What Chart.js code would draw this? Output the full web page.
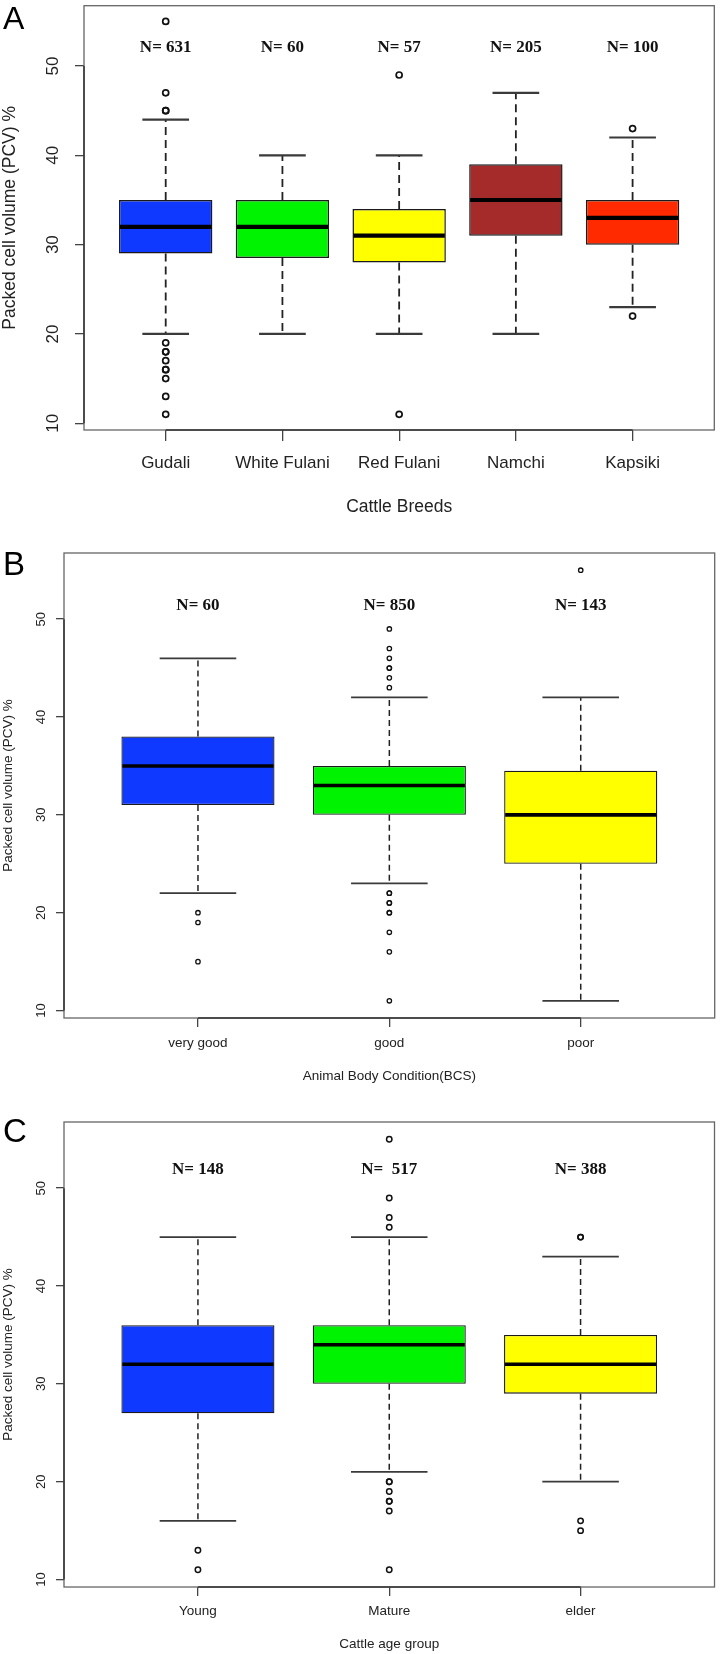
<!DOCTYPE html>
<html>
<head>
<meta charset="utf-8">
<script src="https://cdn.jsdelivr.net/npm/chart.js@4.4.1/dist/chart.umd.min.js"></script>
<style>
  html, body { margin: 0; padding: 0; background: #ffffff; }
  body { width: 720px; height: 1654px; position: relative; overflow: hidden; }
  canvas { position: absolute; left: 0; display: block; }
</style>
</head>
<body>
<canvas id="chartA" width="720" height="525" style="top:0px;width:720px;height:525px"></canvas>
<canvas id="chartB" width="720" height="565" style="top:525px;width:720px;height:565px"></canvas>
<canvas id="chartC" width="720" height="564" style="top:1090px;width:720px;height:564px"></canvas>
<script>
// ---------------- DATA ----------------
const yTicks = [10, 20, 30, 40, 50];
const yTitle = 'Packed cell volume (PCV) %';

// Panel A: cattle breeds
const breedCategories = ['Gudali', 'White Fulani', 'Red Fulani', 'Namchi', 'Kapsiki'];
const breedWhiskerLow = [20, 20, 20, 20, 23];
const breedQ1 = [29, 28.5, 28, 31, 30];
const breedMedian = [32, 32, 31, 35, 33];
const breedQ3 = [35, 35, 34, 39, 35];
const breedWhiskerHigh = [44, 40, 40, 47, 42];
const breedOutliers = [
  [55, 47, 45, 45, 19, 18, 18, 17, 16, 16, 15, 13, 11],
  [],
  [49, 11],
  [],
  [43, 22]
];
const breedN = ['N= 631', 'N= 60', 'N= 57', 'N= 205', 'N= 100'];
const breedColors = ['#1039ff', '#00f300', '#ffff00', '#a52a2a', '#ff2a00'];

// Panel B: body condition
const bcsCategories = ['very good', 'good', 'poor'];
const bcsWhiskerLow = [22, 23, 11];
const bcsQ1 = [31, 30, 25];
const bcsMedian = [35, 33, 30];
const bcsQ3 = [38, 35, 34.5];
const bcsWhiskerHigh = [46, 42, 42];
const bcsOutliers = [
  [20, 19, 15],
  [49, 47, 46, 45, 45, 44, 43, 22, 22, 21, 21, 20, 20, 18, 16, 11],
  [55]
];
const bcsN = ['N= 60', 'N= 850', 'N= 143'];
const bcsColors = ['#1039ff', '#00f300', '#ffff00'];

// Panel C: age group
const ageCategories = ['Young', 'Mature', 'elder'];
const ageWhiskerLow = [16, 21, 20];
const ageQ1 = [27, 30, 29];
const ageMedian = [32, 34, 32];
const ageQ3 = [36, 36, 35];
const ageWhiskerHigh = [45, 45, 43];
const ageOutliers = [
  [13, 11],
  [55, 49, 47, 46, 20, 20, 19, 18, 18, 17, 11],
  [45, 45, 16, 15]
];
const ageN = ['N= 148', 'N=  517', 'N= 388'];
const ageColors = ['#1039ff', '#00f300', '#ffff00'];

// ---------------- DRAWING ----------------
const SANS = '"Liberation Sans", Arial, Helvetica, sans-serif';
const SERIF = '"Liberation Serif", "Times New Roman", serif';

function makeBoxPlot(canvasId, d, s) {
  const boxes = d.categories.map((c, i) => ({ x: i + 1, y: [d.q1[i], d.q3[i]] }));
  const outPts = [];
  d.outliers.forEach((arr, i) => arr.forEach(v => outPts.push({ x: i + 1, y: v })));

  const extras = {
    id: 'boxExtras' + canvasId,
    afterDatasetsDraw(chart) {
      const ctx = chart.ctx, xs = chart.scales.x, ys = chart.scales.y;
      const meta = chart.getDatasetMeta(0);
      ctx.save();
      d.categories.forEach((c, i) => {
        const bar = meta.data[i];
        const cx = xs.getPixelForValue(i + 1);
        const w = bar.width;
        const yq1 = ys.getPixelForValue(d.q1[i]);
        const yq3 = ys.getPixelForValue(d.q3[i]);
        const ylo = ys.getPixelForValue(d.lo[i]);
        const yhi = ys.getPixelForValue(d.hi[i]);
        const ymed = ys.getPixelForValue(d.median[i]);
        // dashed whiskers
        ctx.strokeStyle = '#222';
        ctx.lineWidth = s.whiskerWidth;
        ctx.setLineDash(s.dash);
        ctx.beginPath();
        ctx.moveTo(cx, yq3); ctx.lineTo(cx, yhi);
        ctx.moveTo(cx, yq1); ctx.lineTo(cx, ylo);
        ctx.stroke();
        ctx.setLineDash([]);
        // caps
        ctx.strokeStyle = '#3a3a3a';
        ctx.lineWidth = s.capWidth;
        ctx.beginPath();
        ctx.moveTo(cx - w / 4, yhi); ctx.lineTo(cx + w / 4, yhi);
        ctx.moveTo(cx - w / 4, ylo); ctx.lineTo(cx + w / 4, ylo);
        ctx.stroke();
        // median
        ctx.strokeStyle = '#000';
        ctx.lineWidth = s.medWidth;
        ctx.beginPath();
        ctx.moveTo(cx - w / 2 + 1, ymed); ctx.lineTo(cx + w / 2 - 1, ymed);
        ctx.stroke();
        // N labels
        ctx.fillStyle = '#111';
        ctx.font = 'bold ' + s.nFont + 'px ' + SERIF;
        ctx.textAlign = 'center';
        ctx.textBaseline = 'middle';
        ctx.fillText(d.nLabels[i], cx, ys.getPixelForValue(s.nY));
      });
      ctx.restore();
    },
    afterDraw(chart) {
      const ctx = chart.ctx, a = chart.chartArea, xs = chart.scales.x, ys = chart.scales.y;
      ctx.save();
      // frame box
      ctx.strokeStyle = '#666';
      ctx.lineWidth = 1.3;
      ctx.strokeRect(a.left, a.top, a.right - a.left, a.bottom - a.top);
      // axis lines spanning first..last tick (as in R)
      ctx.strokeStyle = '#333';
      ctx.lineWidth = 1.5;
      ctx.beginPath();
      ctx.moveTo(xs.getPixelForValue(1), a.bottom);
      ctx.lineTo(xs.getPixelForValue(d.categories.length), a.bottom);
      ctx.moveTo(a.left, ys.getPixelForValue(yTicks[0]));
      ctx.lineTo(a.left, ys.getPixelForValue(yTicks[yTicks.length - 1]));
      ctx.stroke();
      // rotated y tick labels
      ctx.fillStyle = '#222';
      ctx.font = s.yTickFont + 'px ' + SANS;
      ctx.textAlign = 'center';
      ctx.textBaseline = 'middle';
      ys.ticks.forEach(t => {
        ctx.save();
        ctx.translate(s.yLabelX, ys.getPixelForValue(t.value));
        ctx.rotate(-Math.PI / 2);
        ctx.fillText(String(t.value), 0, 0);
        ctx.restore();
      });
      // panel letter
      ctx.fillStyle = '#000';
      ctx.font = s.letterFont + 'px ' + SANS;
      ctx.textAlign = 'left';
      ctx.textBaseline = 'alphabetic';
      ctx.fillText(s.letter, 3, s.letterBaseline);
      ctx.restore();
    }
  };

  return new Chart(document.getElementById(canvasId), {
    type: 'bar',
    data: {
      datasets: [
        {
          type: 'bar',
          data: boxes,
          backgroundColor: d.colors,
          borderColor: '#1a1a1a',
          borderWidth: s.boxBorder,
          borderSkipped: false,
          barPercentage: 0.8,
          categoryPercentage: 1.0
        },
        {
          type: 'scatter',
          data: outPts,
          pointRadius: s.ptRadius,
          pointBorderWidth: s.ptWidth,
          pointBackgroundColor: 'rgba(0,0,0,0)',
          pointBorderColor: '#111'
        }
      ]
    },
    options: {
      responsive: false,
      animation: false,
      events: [],
      layout: { padding: { top: s.padTop, right: s.padRight, left: 0, bottom: 0 } },
      plugins: { legend: { display: false }, tooltip: { enabled: false } },
      scales: {
        x: {
          type: 'linear',
          min: 0.3,
          max: d.categories.length + 0.7,
          offset: false,
          afterBuildTicks: (scale) => { scale.ticks = d.categories.map((c, i) => ({ value: i + 1 })); },
          afterFit: (scale) => { scale.height = s.xAxisHeight; },
          ticks: {
            autoSkip: false,
            maxRotation: 0,
            minRotation: 0,
            padding: s.xTickPad,
            color: '#222',
            font: { family: SANS, size: s.xFont },
            callback: (v, idx) => d.categories[idx]
          },
          grid: { display: true, offset: false, drawOnChartArea: false, drawTicks: true, tickLength: s.xTickLen, color: '#444', lineWidth: 1.3 },
          border: { display: false },
          title: {
            display: true,
            text: d.xTitle,
            color: '#222',
            font: { family: SANS, size: s.xTitleFont },
            padding: { top: 0, bottom: s.xTitlePadBottom }
          }
        },
        y: {
          type: 'linear',
          min: 9.24,
          max: 56.76,
          beginAtZero: false,
          afterBuildTicks: (scale) => { scale.ticks = yTicks.map(v => ({ value: v })); },
          afterFit: (scale) => { scale.width = s.yAxisWidth; },
          ticks: { display: false },
          grid: { display: true, drawOnChartArea: false, drawTicks: true, tickLength: s.yTickLen, color: '#444', lineWidth: 1.3 },
          border: { display: false },
          title: {
            display: true,
            text: yTitle,
            color: '#222',
            font: { family: SANS, size: s.yTitleFont },
            padding: { top: 0, bottom: 0 }
          }
        }
      }
    },
    plugins: [extras]
  });
}

makeBoxPlot('chartA', {
  categories: breedCategories, lo: breedWhiskerLow, q1: breedQ1, median: breedMedian,
  q3: breedQ3, hi: breedWhiskerHigh, outliers: breedOutliers, nLabels: breedN,
  colors: breedColors, xTitle: 'Cattle Breeds'
}, {
  padTop: 3, padRight: 4, yAxisWidth: 84, xAxisHeight: 95,
  xTickLen: 11, yTickLen: 9, xTickPad: 12, xFont: 17, xTitleFont: 17.5, xTitlePadBottom: 7,
  yTitleFont: 17.5, yTickFont: 17, yLabelX: 53,
  whiskerWidth: 1.8, dash: [8, 5], capWidth: 2.2, medWidth: 4.2, boxBorder: 1.5,
  ptRadius: 3, ptWidth: 1.7, nFont: 17, nY: 52.1,
  letter: 'A', letterFont: 32, letterBaseline: 29
});

makeBoxPlot('chartB', {
  categories: bcsCategories, lo: bcsWhiskerLow, q1: bcsQ1, median: bcsMedian,
  q3: bcsQ3, hi: bcsWhiskerHigh, outliers: bcsOutliers, nLabels: bcsN,
  colors: bcsColors, xTitle: 'Animal Body Condition(BCS)'
}, {
  padTop: 28, padRight: 4, yAxisWidth: 64, xAxisHeight: 72,
  xTickLen: 9, yTickLen: 8, xTickPad: 8, xFont: 13.5, xTitleFont: 13.5, xTitlePadBottom: 6,
  yTitleFont: 13.5, yTickFont: 13, yLabelX: 41,
  whiskerWidth: 1.5, dash: [6, 4], capWidth: 1.8, medWidth: 3.6, boxBorder: 1.3,
  ptRadius: 2.2, ptWidth: 1.3, nFont: 17, nY: 51.4,
  letter: 'B', letterFont: 33, letterBaseline: 50
});

makeBoxPlot('chartC', {
  categories: ageCategories, lo: ageWhiskerLow, q1: ageQ1, median: ageMedian,
  q3: ageQ3, hi: ageWhiskerHigh, outliers: ageOutliers, nLabels: ageN,
  colors: ageColors, xTitle: 'Cattle age group'
}, {
  padTop: 32, padRight: 4, yAxisWidth: 64, xAxisHeight: 67,
  xTickLen: 9, yTickLen: 8, xTickPad: 7, xFont: 13.5, xTitleFont: 13.5, xTitlePadBottom: 2,
  yTitleFont: 13.5, yTickFont: 13, yLabelX: 41,
  whiskerWidth: 1.5, dash: [6, 4], capWidth: 1.8, medWidth: 3.6, boxBorder: 1.3,
  ptRadius: 2.7, ptWidth: 1.5, nFont: 17, nY: 51.9,
  letter: 'C', letterFont: 33, letterBaseline: 52
});
</script>
</body>
</html>
